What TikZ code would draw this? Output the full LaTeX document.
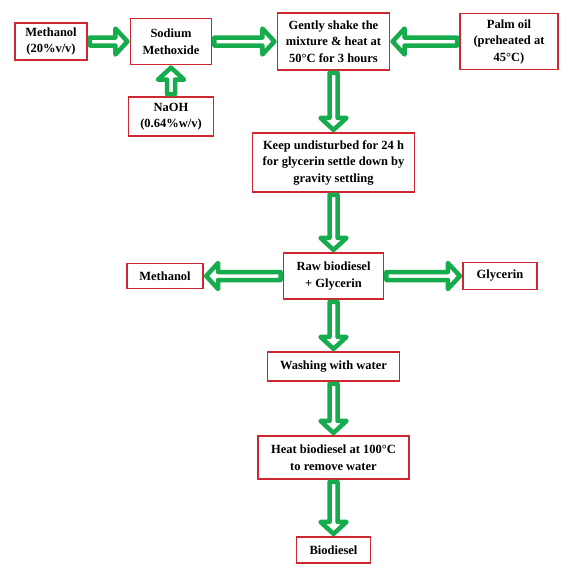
\documentclass[tikz,border=0pt]{standalone}
\usepackage{fontspec}
\setmainfont{Liberation Serif}
\usetikzlibrary{calc}
\definecolor{arrgreen}{RGB}{22,172,78}
\definecolor{boxred}{RGB}{205,40,50}
\tikzset{
  box/.style={draw=boxred, line width=1.4pt, fill=white, align=center, inner sep=0pt,
    font=\fontsize{12.5}{16.5}\selectfont\bfseries},
  fat/.style={draw=arrgreen, line width=4.5pt, fill=white, line join=round,
    to path={let \p1=($(\tikztostart)!2.2pt!(\tikztotarget)$),
                 \p2=($(\tikztotarget)!2.4pt!(\tikztostart)$),
                 \p3=($(\p2)!12pt!(\p1)$) in
      ($(\p1)!4pt!90:(\p2)$) -- ($(\p3)!4pt!-90:(\p1)$) -- ($(\p3)!13pt!-90:(\p1)$)
      -- (\p2) -- ($(\p3)!13pt!90:(\p1)$) -- ($(\p3)!4pt!90:(\p1)$)
      -- ($(\p1)!4pt!-90:(\p2)$) -- cycle}}
}
\begin{document}
\begin{tikzpicture}[x=1pt,y=-1pt]
\useasboundingbox[fill=white] (0,0) rectangle (573,574);
% top row
\node[box, minimum width=72pt, minimum height=37pt] (meth) at (51,41.5) {Methanol\\(20\%v/v)};
\node[box, minimum width=81pt, minimum height=46pt] (sm) at (171,41.5) {Sodium\\Methoxide};
\node[box, minimum width=85pt, minimum height=39pt] (naoh) at (171,116.5) {NaOH\\(0.64\%w/v)};
\node[box, minimum width=112pt, minimum height=57pt] (gs) at (333.5,41.5) {Gently shake the\\mixture \& heat at\\50°C for 3 hours};
\node[box, minimum width=98pt, minimum height=56pt] (palm) at (509,41.5) {Palm oil\\(preheated at\\45°C)};
% column
\node[box, minimum width=162pt, minimum height=59pt] (keep) at (333.5,162.5) {Keep undisturbed for 24 h\\for glycerin settle down by\\gravity settling};
\node[box, minimum width=100pt, minimum height=46pt] (raw) at (333.5,276) {Raw biodiesel\\+ Glycerin};
\node[box, minimum width=76pt, minimum height=25pt] (meth2) at (165,276) {Methanol};
\node[box, minimum width=74pt, minimum height=27pt] (gly) at (500,276) {Glycerin};
\node[box, minimum width=132pt, minimum height=29pt] (wash) at (333.5,366.5) {Washing with water};
\node[box, minimum width=151pt, minimum height=43pt] (heat) at (333.5,457.5) {Heat biodiesel at 100°C\\to remove water};
\node[box, minimum width=74pt, minimum height=26pt] (bio) at (333.5,550) {Biodiesel};
% arrows
\draw[fat] (meth.east) to (sm.west);
\draw[fat] (sm.east) to (gs.west);
\draw[fat] (naoh.north) to (sm.south);
\draw[fat] (palm.west) to (gs.east);
\draw[fat] (gs.south) to (keep.north);
\draw[fat] (keep.south) to (raw.north);
\draw[fat] (raw.west) to (meth2.east);
\draw[fat] (raw.east) to (gly.west);
\draw[fat] (raw.south) to (wash.north);
\draw[fat] (wash.south) to (heat.north);
\draw[fat] (heat.south) to (bio.north);
\end{tikzpicture}
\end{document}
